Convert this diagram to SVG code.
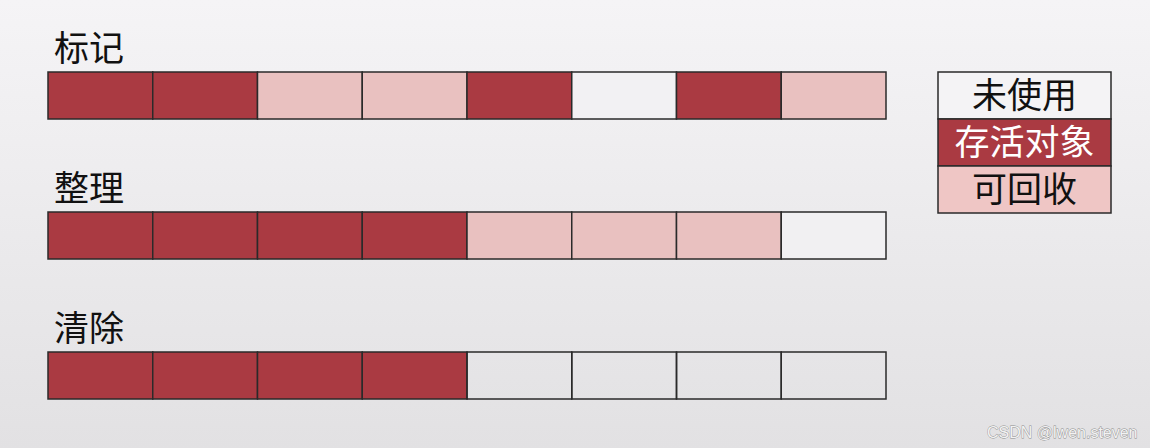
<svg xmlns="http://www.w3.org/2000/svg" width="1150" height="448" viewBox="0 0 1150 448">
<defs>
<linearGradient id="bg" x1="0" y1="0" x2="0" y2="1">
<stop offset="0" stop-color="#f5f4f6"/>
<stop offset="1" stop-color="#e2e1e3"/>
</linearGradient>
<style>
.c{stroke:#2a2a2a;stroke-width:1.5}
.live{fill:#aa3a42}
.rec{fill:#e9c1c0}
.free{fill:none}
.lab{font-family:"Noto Sans CJK SC","Noto Sans",sans-serif;font-size:35px;fill:#111}
.lg{font-family:"Noto Sans CJK SC","Noto Sans",sans-serif;font-size:35px;text-anchor:middle}
.wm{font-family:"Liberation Sans",Arial,sans-serif;font-size:16px;fill:#f2f2f2;stroke:#8a8a8a;stroke-width:0.8;paint-order:stroke}
</style>
</defs>
<rect width="1150" height="448" fill="url(#bg)"/>
<g id="row-mark">
<text class="lab" x="54" y="61">标记</text>
<rect class="c live" x="48" y="72" width="104.75" height="47"/>
<rect class="c live" x="152.75" y="72" width="104.75" height="47"/>
<rect class="c rec" x="257.5" y="72" width="104.75" height="47"/>
<rect class="c rec" x="362.25" y="72" width="104.75" height="47"/>
<rect class="c live" x="467" y="72" width="104.75" height="47"/>
<rect class="c" fill="#f2f1f3" x="571.75" y="72" width="104.75" height="47"/>
<rect class="c live" x="676.5" y="72" width="104.75" height="47"/>
<rect class="c rec" x="781.25" y="72" width="104.75" height="47"/>
</g>
<g id="row-compact">
<text class="lab" x="54" y="201">整理</text>
<rect class="c live" x="48" y="212" width="104.75" height="47"/>
<rect class="c live" x="152.75" y="212" width="104.75" height="47"/>
<rect class="c live" x="257.5" y="212" width="104.75" height="47"/>
<rect class="c live" x="362.25" y="212" width="104.75" height="47"/>
<rect class="c rec" x="467" y="212" width="104.75" height="47"/>
<rect class="c rec" x="571.75" y="212" width="104.75" height="47"/>
<rect class="c rec" x="676.5" y="212" width="104.75" height="47"/>
<rect class="c" fill="#f1f0f2" x="781.25" y="212" width="104.75" height="47"/>
</g>
<g id="row-sweep">
<text class="lab" x="54" y="341">清除</text>
<rect class="c live" x="48" y="352" width="104.75" height="47"/>
<rect class="c live" x="152.75" y="352" width="104.75" height="47"/>
<rect class="c live" x="257.5" y="352" width="104.75" height="47"/>
<rect class="c live" x="362.25" y="352" width="104.75" height="47"/>
<rect class="c free" x="467" y="352" width="104.75" height="47"/>
<rect class="c free" x="571.75" y="352" width="104.75" height="47"/>
<rect class="c free" x="676.5" y="352" width="104.75" height="47"/>
<rect class="c free" x="781.25" y="352" width="104.75" height="47"/>
</g>
<g id="legend">
<rect class="c" fill="#f4f3f5" x="938" y="72" width="173" height="47"/>
<rect class="c live" x="938" y="119" width="173" height="47"/>
<rect class="c" fill="#efc6c5" x="938" y="166" width="173" height="47"/>
<text class="lg" x="1024.5" y="108" fill="#111">未使用</text>
<text class="lg" x="1024.5" y="155" fill="#ffffff">存活对象</text>
<text class="lg" x="1024.5" y="202" fill="#111">可回收</text>
</g>
<text class="wm" x="987" y="438">CSDN @lwen.steven</text>
</svg>
